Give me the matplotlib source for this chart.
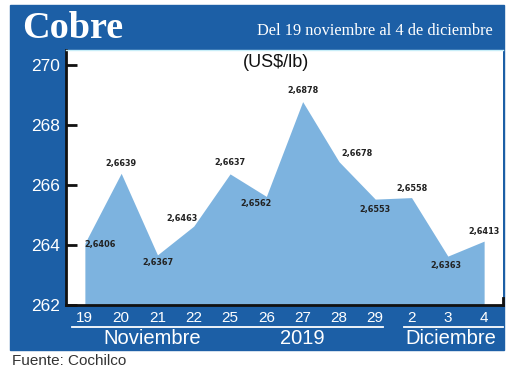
import numpy as np
import matplotlib
matplotlib.use("Agg")
import matplotlib.pyplot as plt
from matplotlib.patches import Rectangle
from matplotlib.lines import Line2D

# data
dias = ['19', '20', '21', '22', '25', '26', '27', '28', '29', '2', '3', '4']
precio = [264.06, 266.39, 263.67, 264.63, 266.37, 265.62,
          268.78, 266.78, 265.53, 265.58, 263.63, 264.13]
etiquetas = ['2,6406', '2,6639', '2,6367', '2,6463', '2,6637', '2,6562',
             '2,6878', '2,6678', '2,6553', '2,6558', '2,6363', '2,6413']
# label offsets in pixels (dx, dy)
offs = [(15, -1), (0, 10), (0, -8), (-12, 8), (0, 11), (-10, -7),
        (0, 11), (18, 8), (0, -10), (0, 9), (-2, -9), (0, 10)]

W, H = 520, 373
azul = '#1c5fa6'
celeste = '#7db3df'

def fx(px):
    return px / W

def fy(py):
    return 1 - py / H

fig = plt.figure(figsize=(W / 100, H / 100), dpi=100)

# blue frame
fig.add_artist(Rectangle((fx(10), fy(350)), fx(504) - fx(10), fy(5) - fy(350),
                         transform=fig.transFigure, color=azul, zorder=0))

ax = fig.add_axes([fx(66), fy(305), fx(503) - fx(66), fy(50) - fy(305)])
ax.set_facecolor('white')
x = np.arange(len(dias))
ax.fill_between(x, 262, precio, color=celeste, lw=0)
ax.set_xlim(-0.52, 11.52)
ax.set_ylim(262, 270.5)
ax.set_yticks([262, 264, 266, 268, 270])
ax.set_yticklabels(['262', '264', '266', '268', '270'])
ax.tick_params(axis='y', direction='in', length=8, width=2, color='#111111',
               labelcolor='white', labelsize=12.5, pad=4)
ax.set_xticks(x)
ax.set_xticklabels(dias)
ax.tick_params(axis='x', length=0, labelcolor='white', labelsize=11, pad=4)
for lbl in ax.get_yticklabels() + ax.get_xticklabels():
    lbl.set_family('Liberation Sans')
for s in ['top', 'right']:
    ax.spines[s].set_visible(False)
for s in ['left', 'bottom']:
    ax.spines[s].set_linewidth(2)
    ax.spines[s].set_color('#111111')

for xi, yi, t, (dx, dy) in zip(x, precio, etiquetas, offs):
    ax.annotate(t, (xi, yi), xytext=(dx, dy), textcoords='offset pixels',
                ha='center', va='center', fontsize=6.5, fontweight='bold',
                family='DejaVu Sans', fontstretch='condensed', color='#222222')

ax.text(0.48, 0.95, '(US$/lb)', transform=ax.transAxes, ha='center', va='center',
        fontsize=13, family='Liberation Sans', color='#111111')

# small tick at right end of x axis
fig.add_artist(Line2D([fx(503), fx(503)], [fy(305), fy(298)],
                      transform=fig.transFigure, color='#111111', lw=2))
# thin light line under header
fig.add_artist(Line2D([fx(66), fx(503)], [fy(50), fy(50)],
                      transform=fig.transFigure, color='#c8eef8', lw=1))

# header
fig.text(fx(22), fy(28), 'Cobre', ha='left', va='center', color='white',
         fontsize=27.5, fontweight='bold', family='Liberation Serif')
fig.text(fx(493), fy(31), 'Del 19 noviembre al 4 de diciembre', ha='right',
         va='center', color='white', fontsize=11.8, family='Liberation Serif')

# month lines and labels
fig.add_artist(Line2D([fx(72), fx(383)], [fy(327), fy(327)],
                      transform=fig.transFigure, color='white', lw=1.3))
fig.add_artist(Line2D([fx(404), fx(503)], [fy(327), fy(327)],
                      transform=fig.transFigure, color='white', lw=1.3))
fig.text(fx(152), fy(338), 'Noviembre', ha='center', va='center', color='white',
         fontsize=14.5, family='Liberation Sans')
fig.text(fx(302), fy(339), '2019', ha='center', va='center', color='white',
         fontsize=14.5, family='Liberation Sans')
fig.text(fx(451), fy(338), 'Diciembre', ha='center', va='center', color='white',
         fontsize=14.5, family='Liberation Sans')

fig.text(fx(12), fy(361), 'Fuente: Cochilco', ha='left', va='center',
         color='#333333', fontsize=11, family='Liberation Sans')

fig.savefig('out.png', dpi=100)
